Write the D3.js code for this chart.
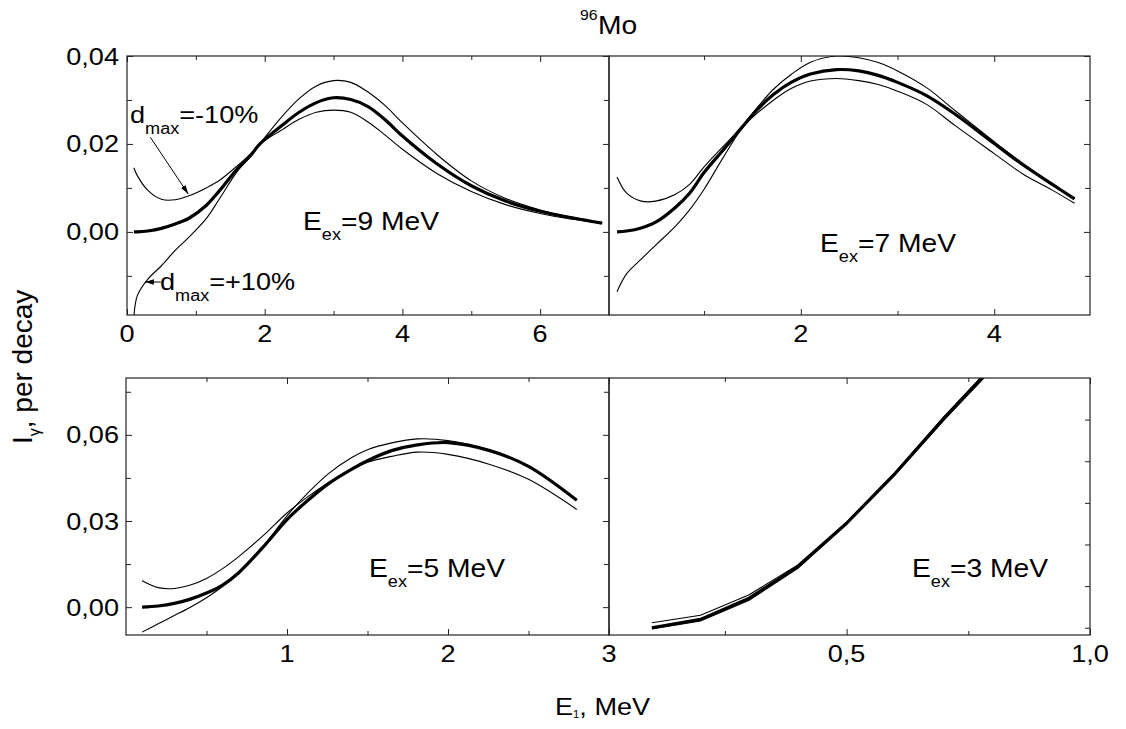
<!DOCTYPE html>
<html><head><meta charset="utf-8">
<script src="https://cdn.jsdelivr.net/npm/d3@7"></script>
<style>
html,body{margin:0;padding:0;background:#fff;}
svg{display:block;}
text{font-family:"Liberation Sans",Arial,sans-serif;fill:#000;}
</style>
</head><body>
<svg id="c" width="1126" height="729"></svg>
<script>
// ---------- DATA ----------
// Panel Eex = 9 MeV
const ex9_x   = [0.1, 0.15, 0.3, 0.5, 0.7, 0.9, 1.15, 1.35, 1.6, 1.8, 1.93, 2.25, 2.5, 2.75, 3.0, 3.25, 3.5, 3.75, 4.0, 4.5, 5.0, 5.5, 6.0, 6.5, 6.9];
const ex9_mid = [0.0000, 0.0000, 0.0002, 0.0008, 0.0018, 0.0031, 0.0060, 0.0095, 0.0143, 0.0175, 0.0200, 0.0242, 0.0272, 0.0294, 0.0305, 0.0301, 0.0285, 0.0255, 0.0218, 0.0155, 0.0105, 0.0070, 0.0047, 0.0031, 0.0020];
const ex9_m10 = [0.0146, 0.0128, 0.0095, 0.0074, 0.0073, 0.0082, 0.0100, 0.0118, 0.0150, 0.0178, 0.0200, 0.0232, 0.0256, 0.0272, 0.0277, 0.0272, 0.0250, 0.0220, 0.0188, 0.0133, 0.0092, 0.0062, 0.0042, 0.0028, 0.0019];
const ex9_p10 = [-0.0195, -0.0145, -0.0108, -0.0077, -0.0042, -0.0012, 0.0030, 0.0077, 0.0137, 0.0172, 0.0200, 0.0262, 0.0303, 0.0332, 0.0344, 0.0340, 0.0318, 0.0287, 0.0248, 0.0176, 0.0116, 0.0076, 0.0050, 0.0032, 0.0021];
// Panel Eex = 7 MeV
const ex7_x   = [0.1, 0.2, 0.35, 0.5, 0.7, 0.85, 1.0, 1.2, 1.4, 1.55, 1.72, 1.9, 2.1, 2.37, 2.6, 2.8, 3.0, 3.3, 3.6, 4.0, 4.3, 4.6, 4.83];
const ex7_mid = [0.0000, 0.0002, 0.0009, 0.0022, 0.0055, 0.0088, 0.0135, 0.0187, 0.0240, 0.0278, 0.0313, 0.0340, 0.0359, 0.0369, 0.0366, 0.0356, 0.0340, 0.0310, 0.0267, 0.0201, 0.0152, 0.0108, 0.0075];
const ex7_m10 = [0.0125, 0.0088, 0.0070, 0.0070, 0.0085, 0.0108, 0.0148, 0.0195, 0.0240, 0.0270, 0.0300, 0.0326, 0.0343, 0.0349, 0.0344, 0.0335, 0.0320, 0.0290, 0.0241, 0.0178, 0.0131, 0.0095, 0.0065];
const ex7_p10 = [-0.0136, -0.0095, -0.0062, -0.0030, 0.0012, 0.0050, 0.0097, 0.0170, 0.0240, 0.0283, 0.0325, 0.0358, 0.0386, 0.0400, 0.0396, 0.0385, 0.0366, 0.0328, 0.0275, 0.0205, 0.0155, 0.0110, 0.0076];
// Panel Eex = 5 MeV
const ex5_x   = [0.1, 0.2, 0.3, 0.4, 0.5, 0.6, 0.7, 0.85, 1.0, 1.13, 1.26, 1.4, 1.5, 1.65, 1.81, 2.0, 2.26, 2.5, 2.8];
const ex5_mid = [0.0000, 0.0004, 0.0013, 0.0028, 0.0049, 0.0077, 0.0120, 0.0208, 0.0305, 0.0372, 0.0431, 0.0480, 0.0510, 0.0545, 0.0565, 0.0573, 0.0545, 0.0490, 0.0372];
const ex5_m10 = [0.0092, 0.0068, 0.0065, 0.0077, 0.0100, 0.0134, 0.0176, 0.0248, 0.0328, 0.0385, 0.0434, 0.0478, 0.0505, 0.0525, 0.0540, 0.0532, 0.0497, 0.0445, 0.0340];
const ex5_p10 = [-0.0087, -0.0058, -0.0029, 0.0000, 0.0033, 0.0072, 0.0118, 0.0210, 0.0318, 0.0398, 0.0466, 0.0520, 0.0548, 0.0572, 0.0586, 0.0580, 0.0547, 0.0492, 0.0373];
// Panel Eex = 3 MeV
const ex3_x   = [0.1, 0.2, 0.3, 0.4, 0.5, 0.6, 0.7, 0.8];
const ex3_mid = [0.0000, 0.0020, 0.0071, 0.0147, 0.0251, 0.0371, 0.0503, 0.0627];
const ex3_m10 = [0.0012, 0.0030, 0.0079, 0.0151, 0.0253, 0.0373, 0.0507, 0.0632];
const ex3_p10 = [-0.0003, 0.0016, 0.0066, 0.0143, 0.0249, 0.0368, 0.0499, 0.0622];

// tick values / labels
const top_yTicks = [0, 0.02, 0.04];           const top_yLabels = ["0,00", "0,02", "0,04"];
const top_yMinor = [-0.01, 0.01, 0.03];
const bot_yTicks = [0, 0.03, 0.06];           const bot_yLabels = ["0,00", "0,03", "0,06"];
const bot_yMinor = [0.015, 0.045, 0.075];
const p1_xTicks = [0, 2, 4, 6];   const p1_xLabels = ["0", "2", "4", "6"];   const p1_xMinor = [1, 3, 5];
const p2_xTicks = [2, 4];         const p2_xLabels = ["2", "4"];             const p2_xMinor = [1, 3];
const p3_xTicks = [1, 2, 3];      const p3_xLabels = ["1", "2", "3"];        const p3_xMinor = [0.5, 1.5, 2.5];
const p4_xTicks = [0.5, 1.0];     const p4_xLabels = ["0,5", "1,0"];         const p4_xMinor = [0.25, 0.75];
const p4_yRight = [0, 0.01, 0.02, 0.03, 0.04, 0.05];

const panelLabels = ["9", "7", "5", "3"];

// ---------- DRAW ----------
const svg = d3.select("#c");
const SX = 1.13;
const FS = 24;

function label(parent, x, y, parts, anchor, fs) {
  const t = parent.append("text")
    .attr("transform", `translate(${x},${y}) scale(${SX},1)`)
    .attr("text-anchor", anchor || "start");
  let shift = 0;
  parts.forEach(p => {
    const ts = t.append("tspan").text(p.t).attr("font-size", p.s || fs || FS);
    const d = (p.dy || 0) - shift;
    if (d) ts.attr("dy", d);
    shift = p.dy || 0;
  });
  return t;
}

const defs = svg.append("defs");
defs.append("marker").attr("id", "arr").attr("viewBox", "0 0 10 6")
  .attr("refX", 10).attr("refY", 3).attr("markerWidth", 9).attr("markerHeight", 5.5)
  .attr("orient", "auto").attr("markerUnits", "userSpaceOnUse")
  .append("path").attr("d", "M0,0 L10,3 L0,6 Z").attr("fill", "#000");

const smooth = d3.curveCatmullRom.alpha(0.5);
const panels = [
  {id: "p1", xr: [127, 609], xd: [0, 7], yr: [315, 56], yd: [-0.0189, 0.04],
   x: ex9_x, mid: ex9_mid, a: ex9_m10, b: ex9_p10, curve: smooth,
   xt: p1_xTicks, xl: p1_xLabels, xm: p1_xMinor, yt: top_yTicks, yl: top_yLabels, ym: top_yMinor,
   leftTicks: true, lab: {x: 303, y: 230, v: panelLabels[0]}, xlabY: 341.5},
  {id: "p2", xr: [609, 1090], xd: [0.017, 4.99], yr: [315, 56], yd: [-0.0189, 0.04],
   x: ex7_x, mid: ex7_mid, a: ex7_m10, b: ex7_p10, curve: smooth,
   xt: p2_xTicks, xl: p2_xLabels, xm: p2_xMinor, yt: top_yTicks, ym: top_yMinor,
   leftTicks: false, lab: {x: 820, y: 251.5, v: panelLabels[1]}, xlabY: 341.5},
  {id: "p3", xr: [126, 609], xd: [0, 3], yr: [635, 378], yd: [-0.0097, 0.0798],
   x: ex5_x, mid: ex5_mid, a: ex5_m10, b: ex5_p10, curve: smooth,
   xt: p3_xTicks, xl: p3_xLabels, xm: p3_xMinor, yt: bot_yTicks, yl: bot_yLabels, ym: bot_yMinor,
   leftTicks: true, lab: {x: 369, y: 577, v: panelLabels[2]}, xlabY: 662},
  {id: "p4", xr: [609, 1090], xd: [0.012, 1.0], yr: [635, 378], yd: [-0.00175, 0.0600],
   x: ex3_x, mid: ex3_mid, a: ex3_m10, b: ex3_p10, curve: d3.curveLinear,
   xt: p4_xTicks, xl: p4_xLabels, xm: p4_xMinor, yt: [], ym: [], yRight: p4_yRight,
   leftTicks: false, lab: {x: 912, y: 577, v: panelLabels[3]}, xlabY: 662}
];

panels.forEach(P => {
  const xs = d3.scaleLinear().domain(P.xd).range(P.xr);
  const ys = d3.scaleLinear().domain(P.yd).range(P.yr);
  P.xs = xs; P.ys = ys;
  const g = svg.append("g");
  const x0 = P.xr[0], x1 = P.xr[1], y0 = P.yr[1], y1 = P.yr[0];

  defs.append("clipPath").attr("id", "clip-" + P.id).append("rect")
    .attr("x", x0).attr("y", y0).attr("width", x1 - x0).attr("height", y1 - y0);

  const tk = (axis, tx, ty, vals, len) => {
    g.append("g").attr("transform", `translate(${tx},${ty})`)
      .call(axis.tickValues(vals).tickSizeInner(len).tickSizeOuter(0).tickFormat(""))
      .call(s => { s.select(".domain").remove(); s.selectAll("line").attr("stroke", "#222").attr("stroke-width", 1); });
  };
  tk(d3.axisBottom(xs), 0, y1, P.xt, -6);
  tk(d3.axisBottom(xs), 0, y1, P.xm, -4);
  tk(d3.axisTop(xs), 0, y0, P.xt, -6);
  tk(d3.axisTop(xs), 0, y0, P.xm, -4);
  if (P.leftTicks) {
    tk(d3.axisLeft(ys), x0, 0, P.yt, -6);
    tk(d3.axisLeft(ys), x0, 0, P.ym, -5);
    tk(d3.axisRight(ys), x1, 0, P.yt, -6);
    tk(d3.axisRight(ys), x1, 0, P.ym, -5);
  } else if (P.yRight) {
    tk(d3.axisRight(ys), x1, 0, P.yRight, -5);
  } else {
    tk(d3.axisRight(ys), x1, 0, P.yt, -6);
    tk(d3.axisRight(ys), x1, 0, P.ym, -5);
  }

  const cg = g.append("g").attr("clip-path", `url(#clip-${P.id})`);
  const mk = arr => d3.line().x((d, i) => xs(P.x[i])).y(d => ys(d)).curve(P.curve)(arr);
  cg.append("path").attr("d", mk(P.a)).attr("fill", "none").attr("stroke", "#000").attr("stroke-width", 1.1);
  cg.append("path").attr("d", mk(P.b)).attr("fill", "none").attr("stroke", "#000").attr("stroke-width", 1.1);
  cg.append("path").attr("d", mk(P.mid)).attr("fill", "none").attr("stroke", "#000").attr("stroke-width", 3.2).attr("stroke-linejoin", "round");

  g.append("rect").attr("x", x0).attr("y", y0).attr("width", x1 - x0).attr("height", y1 - y0)
    .attr("fill", "none").attr("stroke", "#222").attr("stroke-width", 1.2);

  P.xt.forEach((v, i) => label(g, xs(v), P.xlabY, [{t: P.xl[i]}], "middle"));
  if (P.yl) P.yl.forEach((v, i) => label(g, 119, ys(P.yt[i]) + 8.5, [{t: v}], "end"));

  label(g, P.lab.x, P.lab.y, [{t: "E"}, {t: "ex", s: 16, dy: 10}, {t: "=" + P.lab.v + " MeV", dy: 0}], "start", 25);
});

// annotations in panel 1
const P1 = panels[0];
label(svg, 130, 123, [{t: "d"}, {t: "max", s: 16, dy: 11}, {t: "=-10%", dy: 0}]);
svg.append("line")
  .attr("x1", P1.xs(0.34)).attr("y1", P1.ys(0.0215))
  .attr("x2", P1.xs(0.89)).attr("y2", P1.ys(0.0086))
  .attr("stroke", "#000").attr("stroke-width", 1).attr("marker-end", "url(#arr)");
label(svg, 160, 290, [{t: "d"}, {t: "max", s: 16, dy: 11}, {t: "=+10%", dy: 0}]);
svg.append("line")
  .attr("x1", P1.xs(0.49)).attr("y1", P1.ys(-0.0114))
  .attr("x2", P1.xs(0.26)).attr("y2", P1.ys(-0.0114))
  .attr("stroke", "#000").attr("stroke-width", 1).attr("marker-end", "url(#arr)");

// title
label(svg, 580, 20, [{t: "96", s: 14}]);
label(svg, 598, 33.5, [{t: "Mo", s: 25}]);

// axis titles
label(svg, 555, 715, [{t: "E"}, {t: "1", s: 10, dy: 3}, {t: ", MeV", dy: 0}]);
svg.append("text")
  .attr("transform", "translate(32,444) rotate(-90)")
  .call(t => {
    t.append("tspan").text("I").attr("font-size", 28);
    t.append("tspan").text("γ").attr("font-size", 16).attr("dy", 8);
    t.append("tspan").text(", per decay").attr("font-size", 28).attr("dy", -8);
  });
</script>
</body></html>
